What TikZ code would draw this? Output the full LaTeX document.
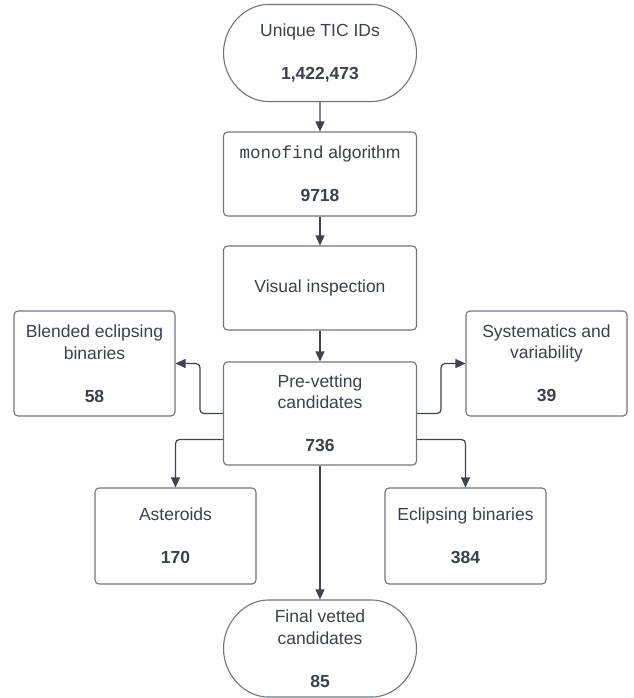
\documentclass[tikz,border=0pt]{standalone}
\usepackage{fontspec}
\setmainfont{Liberation Sans}
\setmonofont{Liberation Mono}
\usetikzlibrary{arrows.meta,positioning,shapes.misc}
\definecolor{texto}{HTML}{3A414A}
\definecolor{borda}{HTML}{70757C}
\definecolor{linha}{HTML}{3F444C}

\begin{document}
\begin{tikzpicture}[
      x=1pt, y=-1pt,
      caixa/.style={draw=borda, line width=1.1pt, rounded corners=4pt,
                    inner sep=0pt, align=center, text=texto,
                    font=\fontsize{17.5}{21.5}\selectfont},
      terminal/.style={caixa, rounded rectangle, minimum width=193pt, minimum height=97pt},
      seta/.style={-{Triangle[length=10pt, width=9pt]}, line width=1.2pt, linha, rounded corners=4pt}
  ]
      \useasboundingbox (0,0) rectangle (633,698);

      % --- COLUNA CENTRAL ---
      \node[terminal] (tic) at (320,53) {Unique TIC IDs\\[21.5pt]\textbf{1,422,473}};
      \node[caixa, minimum width=193pt, minimum height=84pt] (algo) at (320,174)
           {\texttt{monofind} algorithm\\[21.5pt]\textbf{9718}};
      \node[caixa, minimum width=193pt, minimum height=84pt] (visual) at (320,288) {Visual inspection};
      \node[caixa, minimum width=193pt, minimum height=103pt] (prevet) at (320,413.5)
           {Pre-vetting\\candidates\\[21.5pt]\textbf{736}};
      \node[terminal] (final) at (320,648.5) {Final vetted\\candidates\\[21.5pt]\textbf{85}};

      % --- DESCARTES ---
      \node[caixa, minimum width=161pt, minimum height=105pt] (blend) at (94.5,363.5)
           {Blended eclipsing\\binaries\\[21.5pt]\textbf{58}};
      \node[caixa, minimum width=161pt, minimum height=105pt] (sist) at (546.5,363.5)
           {Systematics and\\variability\\[21.5pt]\textbf{39}};
      \node[caixa, minimum width=161pt, minimum height=96pt] (ast) at (175.5,536)
           {Asteroids\\[21.5pt]\textbf{170}};
      \node[caixa, minimum width=161pt, minimum height=96pt] (ecl) at (465.5,536)
           {Eclipsing binaries\\[21.5pt]\textbf{384}};

      % --- SETAS ---
      \draw[seta] (tic) -- (algo);
      \draw[seta] (algo) -- (visual);
      \draw[seta] (visual) -- (prevet);
      \draw[seta] (prevet) -- (final);
      \draw[seta] (prevet.west) -- ++(-23,0) |- (blend.east);
      \draw[seta] (prevet.east) -- ++(24,0) |- (sist.west);
      \draw[seta] ([yshift=-26pt]prevet.west) -| (ast.north);
      \draw[seta] ([yshift=-26pt]prevet.east) -| (ecl.north);

  \end{tikzpicture}
\end{document}
